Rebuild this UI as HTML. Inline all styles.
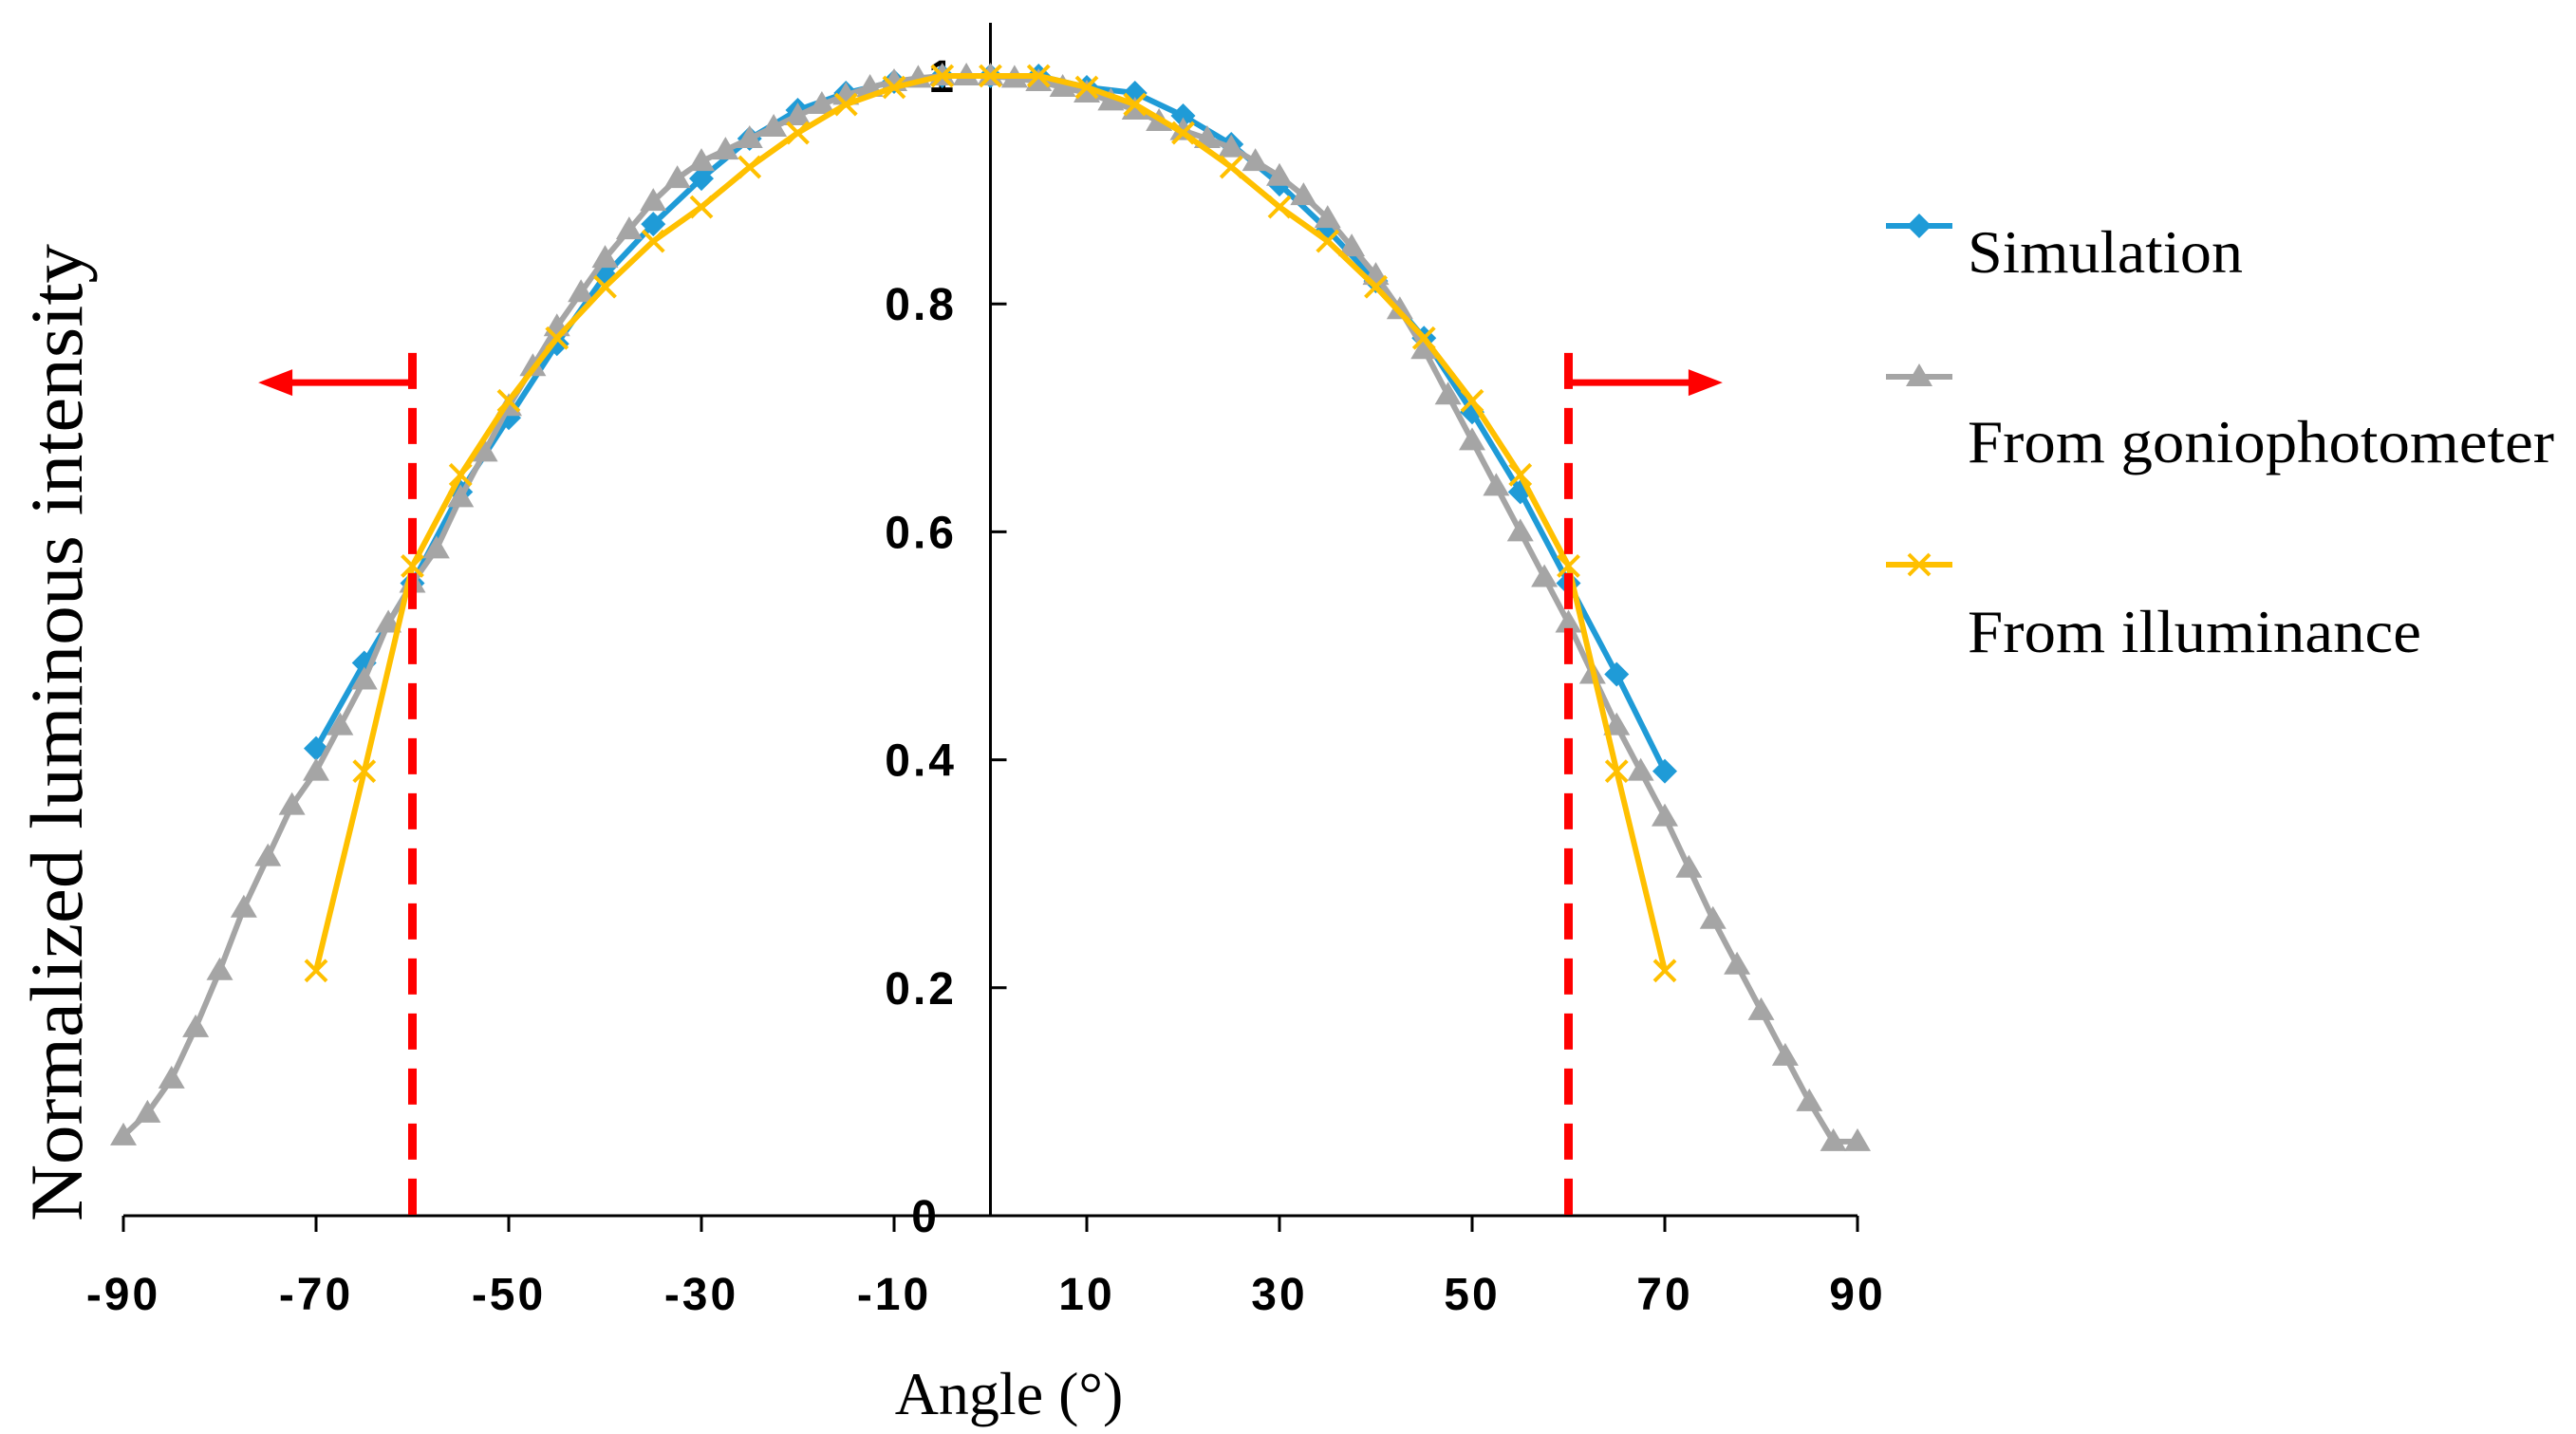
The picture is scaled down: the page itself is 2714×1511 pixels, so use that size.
<!DOCTYPE html>
<html><head><meta charset="utf-8">
<style>html,body{margin:0;padding:0;background:#fff}svg{display:block}</style>
</head><body>
<svg id="chart" xmlns="http://www.w3.org/2000/svg" width="2714" height="1511" viewBox="0 0 2714 1511">
<g id="axes"></g>
<g id="plot"></g>
<g id="legend"></g>
</svg>
<script>
const xTicks = [-90,-70,-50,-30,-10,10,30,50,70,90];
const yTicks = [0,0.2,0.4,0.6,0.8,1];
const yTickLabels = ["0","0.2","0.4","0.6","0.8","1"];
const gonioAngles = [-90,-87.5,-85,-82.5,-80,-77.5,-75,-72.5,-70,-67.5,-65,-62.5,-60,-57.5,-55,-52.5,-50,-47.5,-45,-42.5,-40,-37.5,-35,-32.5,-30,-27.5,-25,-22.5,-20,-17.5,-15,-12.5,-10,-7.5,-5,-2.5,0,2.5,5,7.5,10,12.5,15,17.5,20,22.5,25,27.5,30,32.5,35,37.5,40,42.5,45,47.5,50,52.5,55,57.5,60,62.5,65,67.5,70,72.5,75,77.5,80,82.5,85,87.5,90];
const gonioValues = [0.07,0.09,0.12,0.165,0.215,0.27,0.315,0.36,0.39,0.43,0.47,0.52,0.555,0.585,0.63,0.67,0.71,0.745,0.78,0.81,0.84,0.865,0.89,0.91,0.925,0.935,0.945,0.955,0.965,0.975,0.983,0.99,0.995,0.998,1.0,1.0,1.0,0.998,0.995,0.99,0.985,0.978,0.97,0.96,0.952,0.945,0.937,0.925,0.912,0.895,0.875,0.85,0.825,0.795,0.76,0.72,0.68,0.64,0.6,0.56,0.52,0.475,0.43,0.39,0.35,0.305,0.26,0.22,0.18,0.14,0.1,0.065,0.065];
const fiveAngles = [-70,-65,-60,-55,-50,-45,-40,-35,-30,-25,-20,-15,-10,-5,0,5,10,15,20,25,30,35,40,45,50,55,60,65,70];
const simValues = [0.41,0.485,0.555,0.635,0.70,0.765,0.825,0.87,0.91,0.945,0.97,0.985,0.995,1.0,1.0,1.0,0.99,0.985,0.965,0.94,0.905,0.865,0.82,0.77,0.705,0.635,0.555,0.475,0.39];
const illumValues = [0.215,0.39,0.57,0.65,0.715,0.77,0.815,0.855,0.885,0.92,0.95,0.975,0.99,1.0,1.0,1.0,0.99,0.975,0.95,0.92,0.885,0.855,0.815,0.77,0.715,0.65,0.57,0.39,0.215];
const cutoffAngles = [-60,60];
const cutoffTop = 0.757;
const arrowLevel = 0.731;
const arrowEnd = [-76,76];

const NS="http://www.w3.org/2000/svg";
const X0=130,X1=1957,Y0=1281,Y1=80;
const sx=a=>X0+(a+90)/180*(X1-X0);
const sy=v=>Y0-v*(Y0-Y1);
function mk(tag,attrs,parent){const e=document.createElementNS(NS,tag);for(const k in attrs)e.setAttribute(k,attrs[k]);parent.appendChild(e);return e;}
const axes=document.getElementById('axes'),plot=document.getElementById('plot'),legend=document.getElementById('legend');

let e=mk('line',{x1:X0,y1:Y0,x2:X1,y2:Y0,stroke:'#000','stroke-width':3},axes);

e=mk('line',{x1:sx(0),y1:24,x2:sx(0),y2:Y0,stroke:'#000','stroke-width':3},axes);

xTicks.forEach(t=>{
  const tk=mk('line',{x1:sx(t),y1:Y0,x2:sx(t),y2:Y0+17,stroke:'#000','stroke-width':3},axes);
  
  const lb=mk('text',{x:sx(t),y:1380,'text-anchor':'middle','font-family':'Liberation Sans, sans-serif','font-weight':'bold','font-size':48,'letter-spacing':3},axes);
  lb.textContent=String(t);
  
});
yTicks.forEach((t,i)=>{
  if(t>0){const tk=mk('line',{x1:sx(0),y1:sy(t),x2:sx(0)+17,y2:sy(t),stroke:'#000','stroke-width':3},axes);
  }
  const lb=mk('text',{x:t===0?990:1008,y:sy(t)+17,'text-anchor':'end','font-family':'Liberation Sans, sans-serif','font-weight':'bold','font-size':48,'letter-spacing':3},axes);
  lb.textContent=yTickLabels[i];
  
});
e=mk('text',{x:1063,y:1490,'text-anchor':'middle','font-family':'Liberation Serif, serif','font-size':64},axes);
e.textContent='Angle (°)';

e=mk('text',{x:0,y:0,'text-anchor':'middle','font-family':'Liberation Serif, serif','font-size':78,textLength:1030,lengthAdjust:'spacingAndGlyphs',transform:'translate(86,772) rotate(-90)'},axes);
e.textContent='Normalized luminous intensity';


function diamond(x,y,c,p){return mk('polygon',{points:`${x},${y-13} ${x+13},${y} ${x},${y+13} ${x-13},${y}`,fill:c},p);}
function tri(x,y,c,p){return mk('polygon',{points:`${x},${y-14} ${x+14},${y+10} ${x-14},${y+10}`,fill:c},p);}
function cross(x,y,c,p){return mk('path',{d:`M${x-11},${y-11}L${x+11},${y+11}M${x-11},${y+11}L${x+11},${y-11}`,stroke:c,'stroke-width':4,fill:'none'},p);}
function series(angles,vals,color,marker,name){
  const g=mk('g',{},plot);
  
  const pts=angles.map((a,i)=>sx(a).toFixed(1)+','+sy(vals[i]).toFixed(1)).join(' ');
  const l=mk('polyline',{points:pts,fill:'none',stroke:color,'stroke-width':6,'stroke-linejoin':'round'},g);
  
  angles.forEach((a,i)=>{const m=marker(sx(a),sy(vals[i]),color,g);
    });
}
series(fiveAngles,simValues,'#1f9bd7',diamond,'simulation-series');
series(gonioAngles,gonioValues,'#a5a5a5',tri,'goniophotometer-series');
series(fiveAngles,illumValues,'#ffc000',cross,'illuminance-series');

cutoffAngles.forEach((a,i)=>{
  const d=mk('line',{x1:sx(a),y1:sy(cutoffTop),x2:sx(a),y2:Y0,stroke:'#ff0000','stroke-width':9,'stroke-dasharray':'38 20'},plot);
  
  const yA=sy(arrowLevel),xe=sx(arrowEnd[i]),dir=Math.sign(xe-sx(a));
  const s=mk('line',{x1:sx(a),y1:yA,x2:xe-dir*30,y2:yA,stroke:'#ff0000','stroke-width':7},plot);
  
  const h=mk('polygon',{points:`${xe},${yA} ${xe-dir*36},${yA-14} ${xe-dir*36},${yA+14}`,fill:'#ff0000'},plot);
  
});

const legItems=[['Simulation','#1f9bd7',diamond,238,287],['From goniophotometer','#a5a5a5',tri,397,487],['From illuminance','#ffc000',cross,595,687]];
const legW=[290,618,478];
legItems.forEach((it,i)=>{
  const g=mk('g',{},legend);
  
  mk('line',{x1:1987,y1:it[3],x2:2057,y2:it[3],stroke:it[1],'stroke-width':6},g);
  it[2](2022,it[3],it[1],g);
  const t=mk('text',{x:2073,y:it[4],'font-family':'Liberation Serif, serif','font-size':64,textLength:legW[i],lengthAdjust:'spacingAndGlyphs'},g);
  t.textContent=it[0];
  
});
</script>
</body></html>
